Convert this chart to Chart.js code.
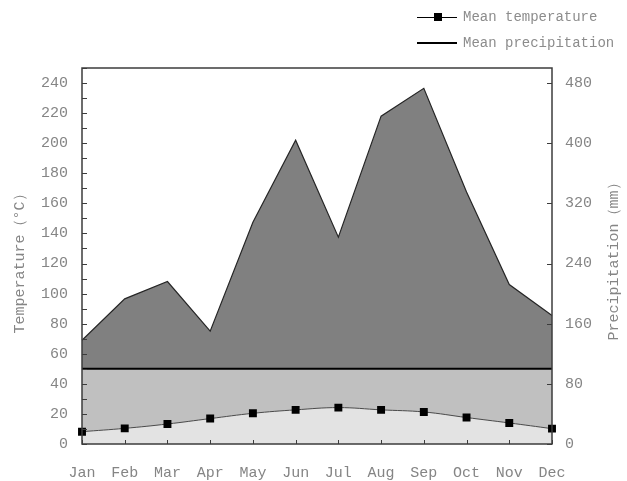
<!DOCTYPE html>
<html lang="en">
<head>
<meta charset="UTF-8">
<title>Mean temperature and precipitation</title>
<style>
    body {
        margin: 0;
        background: #fff;
    }

    #wrap {
        position: relative;
        width: 627px;
        height: 481px;
    }

    #legend {
        position: absolute;
        top: 4px;
        left: 417px;
        font-family: "Liberation Mono", monospace;
        font-size: 14px;
        color: #8c8c8c;
    }

    .item {
        display: flex;
        align-items: center;
        height: 26px;
        white-space: nowrap;
    }

    .swatch {
        position: relative;
        width: 40px;
        height: 14px;
        margin-right: 6px;
    }

    .swatch .ln {
        position: absolute;
        left: 0;
        right: 0;
        top: 7px;
        border-top: 1px solid #000;
    }

    .swatch .ln.thick {
        top: 6px;
        border-top-width: 2px;
    }

    .swatch .sq {
        position: absolute;
        left: 17px;
        top: 3px;
        width: 8px;
        height: 8px;
        background: #000;
    }
</style>
</head>

<body>
<div id="wrap">
    <canvas id="climateChart" width="627" height="481"></canvas>
    <div id="legend"></div>
</div>

<script src="https://cdn.jsdelivr.net/npm/chart.js"></script>
<script>
    // data
    const months = ['Jan', 'Feb', 'Mar', 'Apr', 'May', 'Jun', 'Jul', 'Aug', 'Sep', 'Oct', 'Nov', 'Dec'];
    const meanTemperature = [8.2, 10.4, 13.3, 16.9, 20.4, 22.7, 24.2, 22.7, 21.3, 17.6, 14.0, 10.2];
    const meanPrecipitation = [138, 193, 216, 150, 295, 404, 275, 436, 473, 335, 212, 171];
    // 50 °C = 100 mm limit line
    const limitLine = [50, 50, 50, 50, 50, 50, 50, 50, 50, 50, 50, 50];
    const precipBase = 100;

    // tick positions
    const tempTicks = [0, 10, 20, 30, 40, 50, 60, 70, 80, 90, 100, 110, 120, 130, 140, 150, 160, 170, 180, 190, 200, 210, 220, 230, 240, 250];
    const tempLabelStep = 20;
    const tempLastLabel = 240;
    const precipTicks = [0, 80, 160, 240, 320, 400, 480];
    const tempMax = 250;
    const precipMax = 500;

    const labels = ['Mean temperature', 'Mean precipitation'];
    const titleLeft = 'Temperature（°C）';
    const titleRight = 'Precipitation（mm）';

    const textGrey = '#858585';
    const fontFamily = '"Liberation Mono", monospace';

    // legend (stacked, top right)
    document.getElementById('legend').innerHTML =
        '<div class="item"><span class="swatch"><span class="ln"></span><span class="sq"></span></span>' + labels[0] + '</div>' +
        '<div class="item"><span class="swatch"><span class="ln thick"></span></span>' + labels[1] + '</div>';

    // frame, inward tick marks and axis titles
    const framePlugin = {
        id: 'framePlugin',
        afterDatasetsDraw(chart) {
            const ctx = chart.ctx;
            const a = chart.chartArea;
            const yT = chart.scales.yT;
            const yP = chart.scales.yP;
            const x = chart.scales.x;
            ctx.save();
            ctx.strokeStyle = '#3c3c3c';
            ctx.lineWidth = 1;
            ctx.beginPath();
            yT.ticks.forEach(t => {
                const y = Math.round(yT.getPixelForValue(t.value)) + 0.5;
                ctx.moveTo(a.left, y);
                ctx.lineTo(a.left + 5, y);
            });
            yP.ticks.forEach(t => {
                const y = Math.round(yP.getPixelForValue(t.value)) + 0.5;
                ctx.moveTo(a.right, y);
                ctx.lineTo(a.right - 5, y);
            });
            x.ticks.forEach((t, i) => {
                const px = Math.round(x.getPixelForTick(i)) + 0.5;
                ctx.moveTo(px, a.bottom);
                ctx.lineTo(px, a.bottom - 4);
            });
            ctx.stroke();

            ctx.lineWidth = 1.5;
            ctx.strokeRect(a.left, a.top, a.right - a.left, a.bottom - a.top);

            ctx.fillStyle = textGrey;
            ctx.font = '15px ' + fontFamily;
            ctx.textAlign = 'center';
            ctx.textBaseline = 'middle';
            ctx.save();
            ctx.translate(20, 260);
            ctx.rotate(-Math.PI / 2);
            ctx.fillText(titleLeft, 0, 0);
            ctx.restore();
            ctx.save();
            ctx.translate(614, 258);
            ctx.rotate(-Math.PI / 2);
            ctx.fillText(titleRight, 0, 0);
            ctx.restore();
            ctx.restore();
        }
    };

    const ctx = document.getElementById('climateChart').getContext('2d');
    const climateChart = new Chart(ctx, {
        type: 'line',
        data: {
            labels: months,
            datasets: [
                {
                    label: labels[1],
                    data: meanPrecipitation,
                    yAxisID: 'yP',
                    borderColor: '#262626',
                    borderWidth: 1.2,
                    backgroundColor: '#808080',
                    fill: { value: precipBase },
                    pointRadius: 0,
                    tension: 0,
                    order: 3
                },
                {
                    label: 'limit',
                    data: limitLine,
                    yAxisID: 'yT',
                    borderColor: '#000',
                    borderWidth: 2,
                    backgroundColor: '#c0c0c0',
                    fill: 'origin',
                    pointRadius: 0,
                    order: 2
                },
                {
                    label: labels[0],
                    data: meanTemperature,
                    yAxisID: 'yT',
                    borderColor: '#4a4a4a',
                    borderWidth: 1,
                    backgroundColor: '#e3e3e3',
                    fill: 'origin',
                    tension: 0.4,
                    pointStyle: 'rect',
                    pointRadius: 5.6,
                    pointBackgroundColor: '#000',
                    pointBorderColor: '#000',
                    pointBorderWidth: 0,
                    order: 1
                }
            ]
        },
        options: {
            responsive: false,
            animation: false,
            devicePixelRatio: 1,
            layout: { padding: { top: 68, left: 0, right: 0, bottom: 0 } },
            plugins: {
                legend: { display: false },
                tooltip: { enabled: false }
            },
            scales: {
                x: {
                    offset: false,
                    grid: { display: false, drawTicks: false },
                    border: { display: false },
                    ticks: {
                        autoSkip: false,
                        maxRotation: 0,
                        padding: 20,
                        color: textGrey,
                        font: { family: fontFamily, size: 15 }
                    },
                    afterFit(scale) { scale.height = 37; }
                },
                yT: {
                    position: 'left',
                    min: 0,
                    max: tempMax,
                    grid: { display: false, drawTicks: false },
                    border: { display: false },
                    afterBuildTicks(scale) { scale.ticks = tempTicks.map(v => ({ value: v })); },
                    ticks: {
                        autoSkip: false,
                        padding: 14,
                        color: textGrey,
                        font: { family: fontFamily, size: 15 },
                        callback: v => (v % tempLabelStep === 0 && v <= tempLastLabel) ? v : ''
                    },
                    afterFit(scale) { scale.width = 82; }
                },
                yP: {
                    position: 'right',
                    min: 0,
                    max: precipMax,
                    grid: { display: false, drawTicks: false },
                    border: { display: false },
                    afterBuildTicks(scale) { scale.ticks = precipTicks.map(v => ({ value: v })); },
                    ticks: {
                        autoSkip: false,
                        padding: 13,
                        color: textGrey,
                        font: { family: fontFamily, size: 15 }
                    },
                    afterFit(scale) { scale.width = 75; }
                }
            }
        },
        plugins: [framePlugin]
    });
</script>
</body>
</html>
